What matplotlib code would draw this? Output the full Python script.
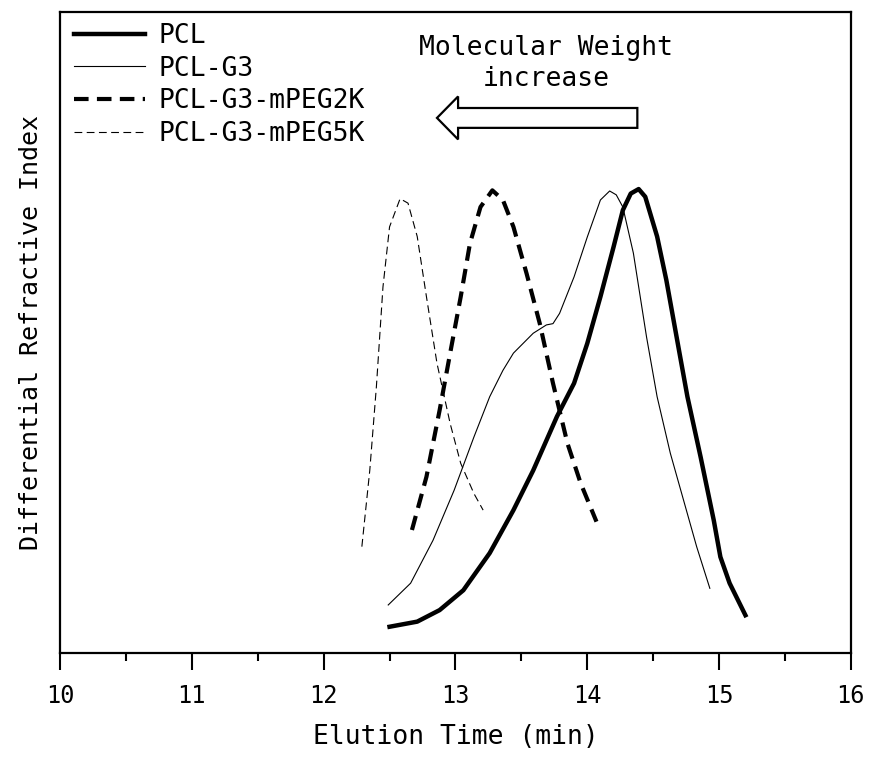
import matplotlib
matplotlib.use("Agg")
import matplotlib.pyplot as plt
from matplotlib.patches import FancyArrow

# Data (elution time in min, detector response in arbitrary units 0-100)
pcl_x = [12.50, 12.71, 12.88, 13.06, 13.26, 13.44, 13.59, 13.77, 13.90, 14.00, 14.10, 14.20,
         14.27, 14.33, 14.39, 14.44, 14.53, 14.60, 14.70, 14.76, 14.86, 14.96, 15.01, 15.08, 15.20]
pcl_y = [4.1, 4.9, 6.7, 9.8, 15.6, 22.3, 28.5, 36.9, 42.1, 48.3, 55.6, 63.4,
         69.1, 71.7, 72.4, 71.2, 65.0, 58.2, 46.8, 40.0, 30.6, 20.7, 15.0, 10.9, 5.9]

g3_x = [12.49, 12.66, 12.83, 12.99, 13.14, 13.26, 13.36, 13.44, 13.59, 13.69, 13.74, 13.79,
        13.90, 14.00, 14.10, 14.17, 14.22, 14.27, 14.35, 14.45, 14.53, 14.63, 14.73, 14.83, 14.93]
g3_y = [7.5, 10.9, 17.6, 25.4, 33.7, 40.0, 44.1, 46.8, 49.9, 51.2, 51.4, 53.0,
        58.7, 64.9, 70.7, 72.1, 71.5, 69.6, 62.4, 49.3, 40.0, 31.2, 23.9, 16.6, 10.1]

peg2k_x = [12.67, 12.78, 12.88, 12.96, 13.04, 13.11, 13.19, 13.28, 13.36, 13.44, 13.54, 13.64,
           13.74, 13.85, 13.95, 14.07]
peg2k_y = [19.2, 27.5, 37.9, 46.8, 55.6, 63.9, 69.6, 72.2, 70.7, 66.5, 59.2, 51.4,
           42.1, 32.7, 26.5, 20.5]

peg5k_x = [12.29, 12.35, 12.40, 12.45, 12.50, 12.58, 12.64, 12.71, 12.78, 12.86, 12.96, 13.04,
           13.14, 13.21]
peg5k_y = [16.6, 28.5, 41.5, 57.1, 66.5, 70.9, 70.2, 65.0, 55.6, 45.2, 35.8, 29.6,
           24.9, 22.3]

labels = ["PCL", "PCL-G3", "PCL-G3-mPEG2K", "PCL-G3-mPEG5K"]
xticks = [10, 11, 12, 13, 14, 15, 16]

plt.rcParams['font.family'] = ['DejaVu Sans Mono']

fig = plt.figure(figsize=(8.7, 7.62), dpi=100)
ax = fig.add_axes([0.069, 0.143, 0.909, 0.841])

ax.plot(pcl_x, pcl_y, color='black', lw=3.2, label=labels[0], solid_joinstyle='round')
ax.plot(g3_x, g3_y, color='black', lw=0.8, label=labels[1], solid_joinstyle='round')
ax.plot(peg2k_x, peg2k_y, color='black', lw=3.0, dashes=(3.5, 2), label=labels[2],
        dash_joinstyle='round')
ax.plot(peg5k_x, peg5k_y, color='black', lw=0.8, dashes=(7, 4), label=labels[3])

ax.set_xlim(10, 16)
ax.set_ylim(0, 100)
ax.set_xticks(xticks)
ax.set_xticks([10.5 + i for i in range(6)], minor=True)
ax.set_yticks([])
ax.tick_params(axis='x', which='major', direction='out', length=12, width=1.5,
               labelsize=17, pad=10)
ax.tick_params(axis='x', which='minor', direction='out', length=6, width=1.5)
for s in ax.spines.values():
    s.set_linewidth(1.6)

ax.set_xlabel("Elution Time (min)", fontsize=19, labelpad=12)
ax.set_ylabel("Differential Refractive Index", fontsize=18, labelpad=12)

ax.legend(loc='upper left', bbox_to_anchor=(-0.006, 1.012), frameon=False, fontsize=19,
          handlelength=2.7, handletextpad=0.5, labelspacing=0.25, borderaxespad=0.3)

ax.text(13.69, 92.0, "Molecular Weight\nincrease", ha='center', va='center', fontsize=19,
        linespacing=1.25)
arrow = FancyArrow(14.38, 83.5, -1.52, 0, width=3.1, head_width=6.7, head_length=0.16,
                   length_includes_head=True, facecolor='white', edgecolor='black', lw=1.6)
ax.add_patch(arrow)

fig.savefig("out.png", dpi=100)
